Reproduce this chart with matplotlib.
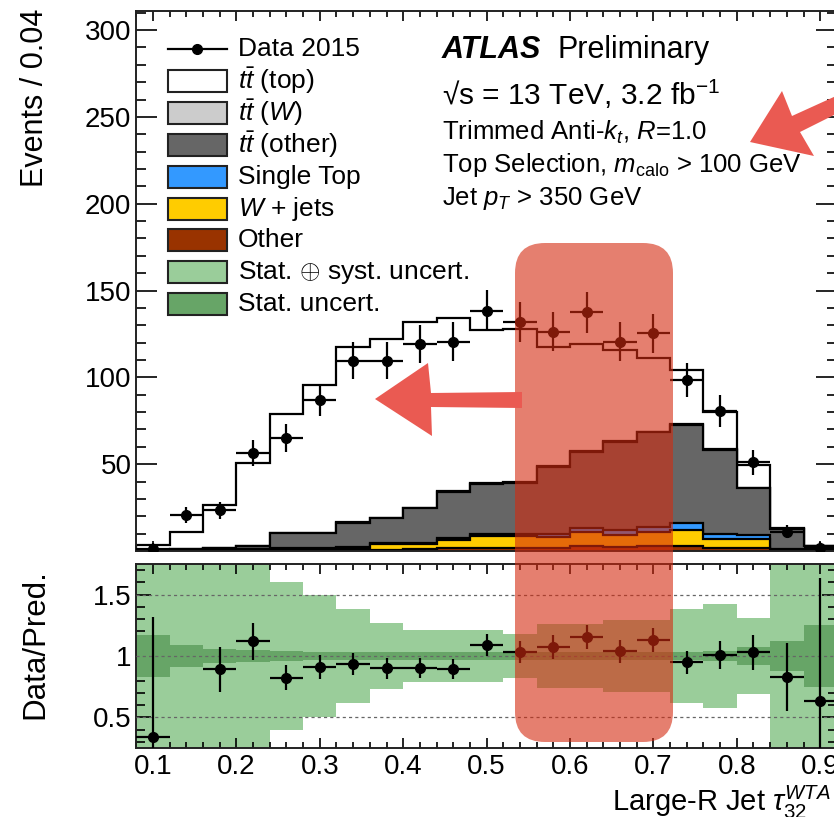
import numpy as np
import matplotlib
matplotlib.use("Agg")
import matplotlib.pyplot as plt
from matplotlib.patches import Rectangle, Polygon, FancyBboxPatch
from matplotlib.lines import Line2D
from matplotlib.transforms import Affine2D
from matplotlib.ticker import MultipleLocator, FuncFormatter, FixedLocator

plt.rcParams['font.family'] = ['Liberation Sans', 'DejaVu Sans']
plt.rcParams['mathtext.fontset'] = 'custom'
plt.rcParams['mathtext.rm'] = 'Liberation Sans'
plt.rcParams['mathtext.it'] = 'Liberation Sans:italic'
plt.rcParams['mathtext.bf'] = 'Liberation Sans:bold'

W, H = 834, 817

# ---- binning (tau32 WTA, width 0.04) ----
bin_edges = np.round(np.arange(0.08, 0.92 + 1e-9, 0.04), 2)

# ---- observed events ----
data = [1.2, 20.7, 23.6, 56.6, 64.9, 87.0, 109.6, 109.6, 119.2, 120.6, 138.4,
        132.0, 126.3, 137.5, 120.6, 125.4, 98.5, 80.6, 51.0, 11.1, 1.9]
data_err = [3.4, 4.5, 4.9, 7.5, 8.1, 9.3, 10.5, 10.5, 10.9, 11.0, 11.8,
            11.5, 11.2, 11.7, 11.0, 11.2, 9.9, 9.0, 7.0, 3.7, 3.0]

# ---- stacked predictions ----
tt_top = [2.7, 10.0, 25.0, 47.5, 68.6, 85.1, 101.1, 102.8, 107.0, 99.9, 87.9,
          88.1, 68.6, 61.7, 52.6, 42.2, 31.1, 21.5, 13.3, 0.8, 0.2]
tt_w = [0.0, 0.0, 0.0, 0.1, 0.2, 0.3, 0.3, 0.4, 0.4, 0.5, 0.5,
        0.5, 0.5, 0.5, 0.4, 0.4, 0.3, 0.3, 0.2, 0.1, 0.0]
tt_other = [0.4, 0.5, 0.7, 1.8, 8.7, 8.3, 14.1, 14.4, 19.8, 26.5, 28.6,
            29.4, 38.6, 44.2, 51.0, 54.4, 56.6, 48.2, 27.0, 11.2, 2.5]
single_top = [0.1, 0.1, 0.2, 0.3, 0.4, 0.5, 0.5, 0.6, 0.8, 1.0, 1.5,
              1.5, 2.0, 2.0, 2.5, 3.0, 4.0, 3.0, 2.0, 0.5, 0.1]
wjets = [0.2, 0.3, 0.4, 0.6, 0.8, 1.0, 1.2, 3.0, 3.0, 4.5, 6.5,
         6.5, 6.0, 8.0, 7.0, 8.0, 9.0, 5.0, 5.5, 0.5, 0.1]
other = [0.1, 0.1, 0.2, 0.3, 0.3, 0.4, 0.5, 0.8, 1.0, 2.0, 2.0,
         2.0, 2.0, 3.0, 2.5, 3.0, 3.0, 2.0, 1.5, 0.3, 0.1]

# ---- relative uncertainties on the prediction ----
syst_rel = [1.0, 0.9, 0.85, 0.8, 0.6, 0.5, 0.38, 0.27, 0.21, 0.21, 0.21,
            0.18, 0.26, 0.26, 0.29, 0.29, 0.38, 0.42, 0.31, 0.9, 1.0]
stat_rel = [0.17, 0.09, 0.06, 0.05, 0.04, 0.035, 0.03, 0.03, 0.03, 0.03, 0.03,
            0.03, 0.03, 0.03, 0.03, 0.03, 0.035, 0.04, 0.07, 0.12, 0.25]

legend_labels = ["Data 2015", r"$t\bar{t}$ (top)", r"$t\bar{t}$ ($W$)",
                 r"$t\bar{t}$ (other)", "Single Top", r"$W$ + jets", "Other",
                 r"Stat. $\oplus$ syst. uncert.", "Stat. uncert."]

c_top, c_w, c_oth = "white", "#cccccc", "#666666"
c_st, c_wj, c_other = "#3399ff", "#ffcc00", "#993300"
c_syst, c_stat = "#9acd9a", "#67a567"

centers = 0.5 * (bin_edges[:-1] + bin_edges[1:])
half_w = 0.5 * np.diff(bin_edges)
data = np.array(data)
data_err = np.array(data_err)

fig = plt.figure(figsize=(W / 100, H / 100), dpi=100)


def frame(x0, y0, x1, y1):
    return [x0 / W, 1 - y1 / H, (x1 - x0) / W, (y1 - y0) / H]


ax = fig.add_axes(frame(136.3, 11, 836.9, 551))
rax = fig.add_axes(frame(136.3, 564, 836.9, 748))

# ---- main panel: stacked histograms ----
components = [other, wjets, single_top, tt_other, tt_w, tt_top]
fills = [c_other, c_wj, c_st, c_oth, c_w, c_top]
levels = np.cumsum(np.array(components), axis=0)
for lvl, fc in reversed(list(zip(levels, fills))):
    ax.stairs(lvl, bin_edges, fill=True, facecolor=fc, edgecolor="black",
              linewidth=1.6, baseline=0, zorder=2)

ax.errorbar(centers, data, xerr=half_w, yerr=data_err, fmt="o", color="black",
            ms=7, elinewidth=1.6, capsize=0, zorder=5)

ax.set_xlim(bin_edges[0], bin_edges[-1])
ax.set_ylim(0, 311)
ax.xaxis.set_major_locator(MultipleLocator(0.1))
ax.xaxis.set_minor_locator(MultipleLocator(0.02))
ax.yaxis.set_major_locator(MultipleLocator(50))
ax.yaxis.set_minor_locator(MultipleLocator(10))
ax.yaxis.set_major_formatter(FuncFormatter(lambda v, p: "" if v <= 0 else f"{v:g}"))
ax.tick_params(which="both", direction="in", top=True, right=True,
               labelbottom=False, labelsize=20, width=1.2, pad=3.5)
ax.tick_params(axis="x", which="major", length=7.5)
ax.tick_params(axis="x", which="minor", length=4)
ax.tick_params(axis="y", which="major", length=15)
ax.tick_params(axis="y", which="minor", length=7.5)

# ---- ratio panel ----
pred = levels[-1]
ratio = data / pred
ratio_err = data_err / pred
lo_r, hi_r = 0.25, 1.75

rax.stairs(1 + np.array(syst_rel), bin_edges, baseline=1 - np.array(syst_rel),
           fill=True, facecolor=c_syst, edgecolor="none", zorder=1)
rax.stairs(1 + np.array(stat_rel), bin_edges, baseline=1 - np.array(stat_rel),
           fill=True, facecolor=c_stat, edgecolor="none", zorder=2)
for v in (0.5, 1.0, 1.5):
    rax.axhline(v, color="#666666", ls=(0, (2.5, 2.5)), lw=0.9, zorder=3)

shown = (ratio > lo_r) & (ratio < hi_r)
rax.errorbar(centers[shown], ratio[shown], xerr=half_w[shown], yerr=ratio_err[shown],
             fmt="o", color="black", ms=7, elinewidth=1.6, capsize=0, zorder=5)

rax.set_xlim(bin_edges[0], bin_edges[-1])
rax.set_ylim(lo_r, hi_r)
rax.xaxis.set_major_locator(MultipleLocator(0.1))
rax.xaxis.set_minor_locator(MultipleLocator(0.02))
rax.xaxis.set_major_formatter(FuncFormatter(lambda v, p: f"{v:g}"))
rax.yaxis.set_major_locator(FixedLocator([0.5, 1.0, 1.5]))
rax.yaxis.set_minor_locator(MultipleLocator(0.1))
rax.yaxis.set_major_formatter(FuncFormatter(lambda v, p: f"{v:g}"))
rax.tick_params(which="both", direction="in", top=True, right=True,
                labelsize=20, width=1.2)
rax.tick_params(axis="y", pad=3.5)
rax.tick_params(axis="x", pad=4.5)
rax.tick_params(axis="x", which="major", length=7.5)
rax.tick_params(axis="x", which="minor", length=4.5)
rax.tick_params(axis="y", which="major", length=11)
rax.tick_params(axis="y", which="minor", length=6.5)

for a in (ax, rax):
    for s in a.spines.values():
        s.set_linewidth(1.4)
        s.set_color("#222222")

# ---- axis titles ----
fig.text(35 / W, 1 - 9 / H, "Events / 0.04", rotation=90, ha="center", va="top",
         fontsize=22)
fig.text(35 / W, 1 - 644 / H, "Data/Pred.", rotation=90, ha="center", va="center",
         fontsize=22.5)
fig.text(612 / W, 1 - 802 / H, r"Large-R Jet $\tau_{32}^{WTA}$", ha="left",
         va="center", fontsize=21)

# ---- labels ----
fig.text(442 / W, 1 - 50 / H, "ATLAS", fontsize=22, fontweight="bold",
         fontstyle="italic", ha="left", va="center")
fig.text(557 / W, 1 - 50 / H, "Preliminary", fontsize=22, ha="left", va="center")
fig.text(442 / W, 1 - 94 / H, "\u221as = 13 TeV, 3.2 fb$^{-1}$", fontsize=21.5,
         ha="left", va="center")
fig.text(442 / W, 1 - 132 / H, r"Trimmed Anti-$k_{t}$, $R$=1.0", fontsize=18.5,
         ha="left", va="center")
fig.text(442 / W, 1 - 165 / H, r"Top Selection, $m_{\mathrm{calo}}$ > 100 GeV",
         fontsize=18.5, ha="left", va="center")
fig.text(442 / W, 1 - 198 / H, r"Jet $p_{T}$ > 350 GeV", fontsize=18.5,
         ha="left", va="center")

# ---- legend ----
px = Affine2D().scale(1 / W, 1 / H) + fig.transFigure
row_y = [49, 81, 113, 145, 177, 209, 240, 272, 304]
box_fc = [None, c_top, c_w, c_oth, c_st, c_wj, c_other, c_syst, c_stat]
for y, lab, fc in zip(row_y, legend_labels, box_fc):
    yu = H - y
    if fc is None:
        fig.add_artist(Line2D([168, 227], [yu, yu], color="black", lw=1.6,
                              transform=px))
        fig.add_artist(Line2D([197.5], [yu], marker="o", ms=7, color="black",
                              transform=px))
    else:
        fig.add_artist(Rectangle((168, yu - 11), 59, 22, facecolor=fc,
                                 edgecolor="#222222", lw=1.5, transform=px))
    fig.text(238 / W, yu / H, lab, fontsize=19, ha="left", va="center")

# ---- highlight box and arrows ----
red = "#d42a10"
fig.add_artist(FancyBboxPatch((515, H - 742), 158, 742 - 243,
                              boxstyle="round,pad=0,rounding_size=30",
                              facecolor=red, edgecolor="none", alpha=0.6,
                              transform=px, zorder=20))

arrow_c = "#ea5a52"
mid_arrow = [(375, 399), (428, 363), (431, 393), (522, 392), (522, 408),
             (431, 407), (432, 436)]
fig.add_artist(Polygon([(x, H - y) for x, y in mid_arrow], closed=True,
                       facecolor=arrow_c, edgecolor="none", transform=px, zorder=21))
top_arrow = [(750, 142), (782, 91), (792, 116), (836, 96), (836, 114),
             (800, 132), (814, 156)]
fig.add_artist(Polygon([(x, H - y) for x, y in top_arrow], closed=True,
                       facecolor=arrow_c, edgecolor="none", transform=px, zorder=21))

fig.savefig("out.png", dpi=100)
